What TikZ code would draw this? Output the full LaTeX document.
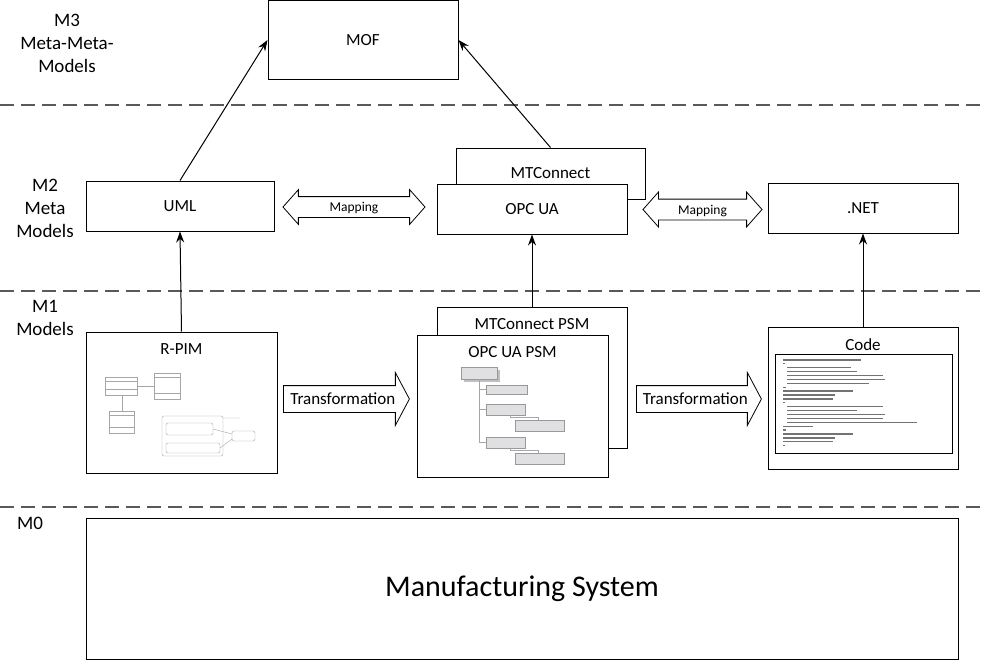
\documentclass[tikz,border=0pt]{standalone}
\usepackage{fontspec}
\setmainfont{Carlito}
\usepackage{tikz}
\usetikzlibrary{arrows.meta,shapes.arrows,positioning}
\tikzset{box/.style={draw=black,line width=1pt,fill=white,inner sep=0pt}}
\tikzset{level/.style={font=\fontsize{19}{23}\selectfont,align=center}}
\tikzset{layer/.style={draw=black!65,line width=1.2pt,dash pattern=on 14pt off 7pt}}
\tikzset{title/.style={label={[anchor=center,yshift=-18pt]north:#1}}}
\tikzset{mapping/.style={double arrow,draw=black,line width=0.8pt,fill=white,minimum height=142pt,
    double arrow head extend=7pt,double arrow tip angle=97,inner xsep=0pt,inner ysep=0pt,
    text height=14.5pt,text depth=5.5pt,font=\fontsize{13.5}{15}\selectfont}}
\tikzset{trafo/.style={single arrow,draw=black,line width=0.8pt,fill=white,minimum height=126pt,
    single arrow head extend=13pt,single arrow tip angle=124,inner xsep=1pt,inner ysep=0pt,
    text height=18pt,text depth=8pt}}
\tikzset{shot/.style={draw=black!35,line width=0.4pt}}
\tikzset{tree/.style={draw=black!40,line width=0.4pt,fill=blue!10!black!12}}
\tikzset{codeline/.style={draw=black!55,line width=1.3pt}}

\begin{document}
\begin{tikzpicture}[x=1pt,y=-1pt,>={Stealth[length=11pt,width=8pt]},line width=1pt,
        font=\fontsize{17}{20}\selectfont]
        \useasboundingbox (0,0) rectangle (985,661);
        % layers
        \draw[layer] (0,105) -- (985,105);
        \draw[layer] (0,291) -- (985,291);
        \draw[layer] (0,507) -- (985,507);
        \node[level] (M3) at (67,43) {M3\\Meta-Meta-\\Models};
        \node[level] (M2) at (45,208) {M2\\Meta\\Models};
        \node[level] (M1) at (45,318) {M1\\Models};
        \node[level] (M0) at (30,523) {M0};

        % M3 and M2
        \node[box,minimum width=190pt,minimum height=78pt] (MOF) at (363,40) {MOF};
        \node[box,minimum width=188pt,minimum height=50pt] (UML) at (180,206) {UML};
        \node[box,minimum width=189pt,minimum height=51pt,
              label={[anchor=center,yshift=-26pt]north:MTConnect}] (MTC) at (550.5,173.5) {};
        \node[box,minimum width=190pt,minimum height=50pt] (OPCUA) at (532,209) {OPC UA};
        \node[box,minimum width=190pt,minimum height=50pt] (NET) at (863,208) {.NET};
        \node[mapping] (map1) at (354,207) {Mapping};
        \node[mapping,minimum height=119pt] (map2) at (702.5,209.5) {Mapping};

        % M1
        \node[box,minimum width=191pt,minimum height=141pt,title=R-PIM] (RPIM) at (181.5,402.5) {};
        \node[box,minimum width=190pt,minimum height=141pt,title=MTConnect PSM] (MTCPSM) at (532,377.5) {};
        \node[box,minimum width=191pt,minimum height=142pt,title=OPC UA PSM] (OPCPSM) at (512.5,406) {};
        \node[box,minimum width=190pt,minimum height=142pt,title=Code] (Code) at (863,398) {};
        \node[trafo,anchor=tail] (trafo1) at (283,399) {Transformation};
        \node[trafo,anchor=tail,minimum height=125pt] (trafo2) at (636,399) {Transformation};

        % M0
        \node[box,minimum width=872pt,minimum height=141pt,font=\fontsize{30}{36}\selectfont] (MS) at (522,588.5) {Manufacturing System};

        % R-PIM class and state diagram
        \draw[shot] (105,377) rectangle (137,395) (105,381) -- (137,381) (105,389) -- (137,389);
        \draw[shot] (154,373) rectangle (180,399) (154,377) -- (180,377) (154,393) -- (180,393);
        \draw[shot] (109,411) rectangle (134,433) (109,415) -- (134,415) (109,427) -- (134,427);
        \draw[shot] (137,386) -- (154,386) (122,395) -- (122,411);
        \draw[shot,rounded corners=2pt] (162,416) rectangle (223,456);
        \draw[shot,rounded corners=2pt] (166,423) rectangle (213,435);
        \draw[shot,rounded corners=2pt] (166,443) rectangle (220,453);
        \draw[shot,rounded corners=2pt] (232,431) rectangle (255,441);
        \draw[shot] (223,418) -- (240,418) (213,429) -- (232,434) (220,448) -- (232,439);

        % OPC UA PSM type tree
        \fill[black!25] (464,370) rectangle (500,382);
        \draw[tree] (461,367) rectangle (497,379);
        \draw[shot] (479,379) -- (479,442);
        \foreach \y in {389,409,442}
            \draw[shot] (479,\y) -- (486,\y);
        \draw[tree] (486,385) rectangle (527,394);
        \draw[tree] (486,404) rectangle (525,415);
        \draw[tree] (515,420) rectangle (564,431);
        \draw[tree] (486,437) rectangle (525,448);
        \draw[tree] (515,453) rectangle (564,464);
        \draw[shot] (510,415) -- (510,417) -- (538,417) -- (538,420);
        \draw[shot] (510,448) -- (510,450) -- (538,450) -- (538,453);

        % code listing
        \draw[line width=1pt] (775,354) rectangle (952,453);
        \foreach \dx/\len [count=\i] in {0/78,0/2,4/64,4/70,4/96,4/98,4/82,0/3,0/70,0/52,0/50,0/2,
                4/96,4/70,4/98,4/96,4/130,0/30,0/3,0/70,0/52,0/50,0/2}
            \draw[codeline] (783+\dx,356+3.9*\i) -- ++(\len,0);

        % connections
        \path[->] (UML.north) edge (MOF.west);
        \path[->] (MTC.north) edge (MOF.east);
        \path[->] (RPIM.north) edge (UML.south);
        \path[->] (MTCPSM.north) edge (OPCUA.south);
        \path[->] (Code.north) edge (NET.south);
\end{tikzpicture}
\end{document}
